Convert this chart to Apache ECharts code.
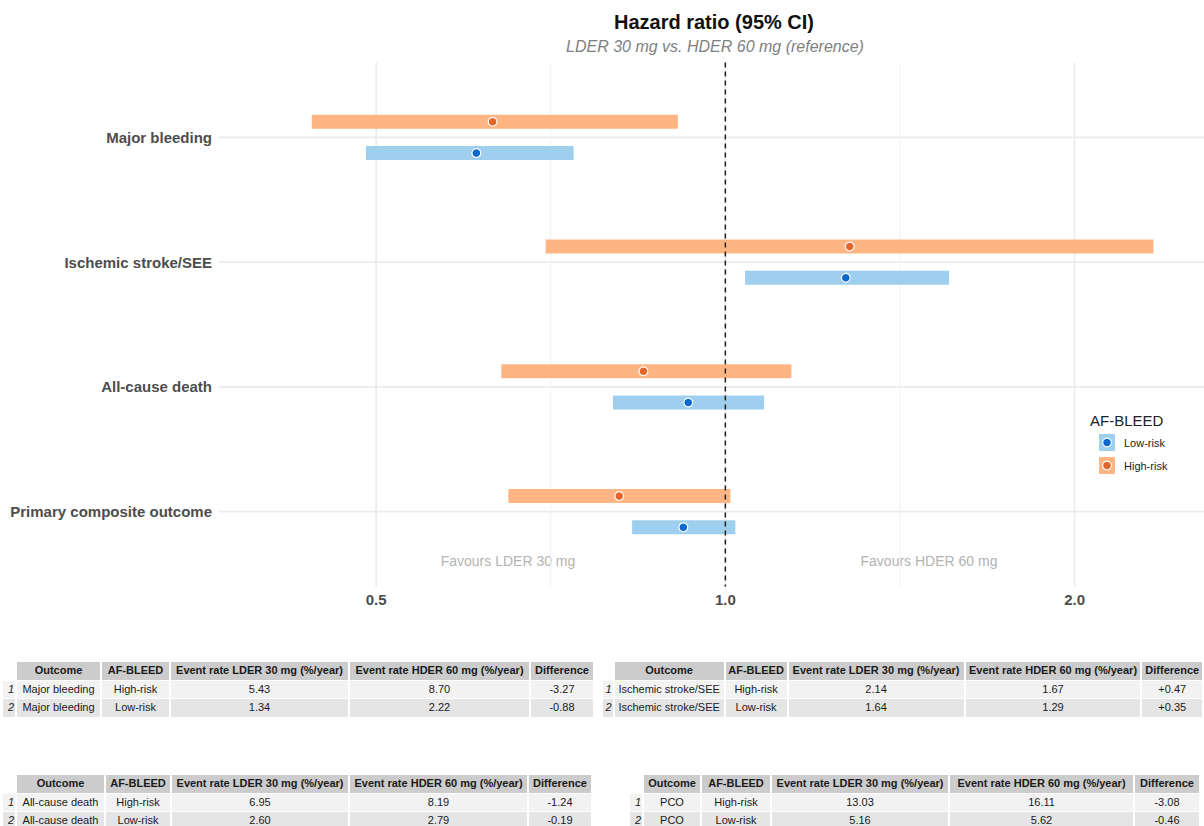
<!DOCTYPE html>
<html><head><meta charset="utf-8">
<script src="https://cdn.jsdelivr.net/npm/echarts@6/dist/echarts.min.js"></script>
<style>
html,body{margin:0;padding:0;background:#fff;width:1204px;height:826px;overflow:hidden;position:relative;font-family:"Liberation Sans",Arial,sans-serif;}
#chart{position:absolute;left:0;top:0;width:1204px;height:640px;}
table.t{position:absolute;border-collapse:separate;border-spacing:2px 1px;font-size:11px;color:#1a1a1a;table-layout:fixed;}
table.t td,table.t th{box-sizing:border-box;height:17.5px;line-height:17px;padding:0 2px;text-align:center;white-space:nowrap;overflow:hidden;}
table.t th{background:#cccccc;font-weight:bold;}
table.t tr th.rh,table.t tr td.rh{background:transparent;font-style:italic;text-align:right;font-weight:normal;padding:0 1px;}
table.t tr.r1 td{background:#f2f2f2;}
table.t tr.r2 td{background:#e5e5e5;}
</style></head>
<body>
<div id="chart"></div>
<div id="tables"></div>
<script>
// ---- forest plot data ----
const outcomes = ['Major bleeding', 'Ischemic stroke/SEE', 'All-cause death', 'Primary composite outcome'];
const highEst = [0.630, 1.280, 0.850, 0.810];
const highLo  = [0.440, 0.700, 0.641, 0.650];
const highHi  = [0.910, 2.339, 1.140, 1.010];
const lowEst  = [0.610, 1.270, 0.929, 0.920];
const lowLo   = [0.490, 1.040, 0.800, 0.831];
const lowHi   = [0.740, 1.559, 1.080, 1.020];
const xMajorBreaks = [0.5, 1, 2];
const xMinorBreaks = [0.707, 1.414];
const refValue = 1;
const xMin = 0.366, xMax = 2.586;

// ---- table data ----
const tableHeader = ['Outcome', 'AF-BLEED', 'Event rate LDER 30 mg (%/year)', 'Event rate HDER 60 mg (%/year)', 'Difference'];
const tableOutcomes = ['Major bleeding', 'Ischemic stroke/SEE', 'All-cause death', 'PCO'];
const riskGroups = ['High-risk', 'Low-risk'];
const rateLDER = [['5.43', '1.34'], ['2.14', '1.64'], ['6.95', '2.60'], ['13.03', '5.16']];
const rateHDER = [['8.70', '2.22'], ['1.67', '1.29'], ['8.19', '2.79'], ['16.11', '5.62']];
const rateDiff = [['-3.27', '-0.88'], ['+0.47', '+0.35'], ['-1.24', '-0.19'], ['-3.08', '-0.46']];

// ---- tables (layout) ----
const tableLayout = [
  {left: 1,   top: 661, widths: [12, 83, 67, 177, 179, 62]},
  {left: 601, top: 661, widths: [12, 114, 63, 181, 179, 62]},
  {left: 1,   top: 774, widths: [12, 87, 64, 176, 177, 62]},
  {left: 628, top: 774, widths: [12, 56, 68, 176, 183, 64]}
];
let html = '';
tableOutcomes.forEach((o, ti) => {
  const L = tableLayout[ti];
  const w = L.widths;
  let s = '<table class="t" style="left:' + L.left + 'px;top:' + L.top + 'px"><tr><th class="rh" style="width:' + w[0] + 'px"></th>';
  tableHeader.forEach((h, k) => { s += '<th style="width:' + w[k + 1] + 'px">' + h + '</th>'; });
  s += '</tr>';
  riskGroups.forEach((g, r) => {
    s += '<tr class="r' + (r + 1) + '"><td class="rh">' + (r + 1) + '</td><td>' + o + '</td><td>' + g + '</td><td>' +
      rateLDER[ti][r] + '</td><td>' + rateHDER[ti][r] + '</td><td>' + rateDiff[ti][r] + '</td></tr>';
  });
  s += '</table>';
  html += s;
});
document.getElementById('tables').innerHTML = html;

// ---- chart ----
const chart = echarts.init(document.getElementById('chart'), null, {renderer: 'svg'});
const FONT = '"Liberation Sans", Arial, sans-serif';
const EXPAND = 0.6;

function bandOf(api) {
  return api.coord([1, 1])[1] - api.coord([1, 0])[1];
}

function renderGrid(params, api) {
  const cs = params.coordSys;
  const band = bandOf(api);
  const top = api.coord([1, 0])[1] - EXPAND * band;
  const bottom = api.coord([1, outcomes.length - 1])[1] + EXPAND * band;
  const children = [];
  outcomes.forEach((o, i) => {
    const y = api.coord([1, i])[1];
    children.push({type: 'line', shape: {x1: cs.x, y1: y, x2: cs.x + cs.width, y2: y}, style: {stroke: '#ebebeb', lineWidth: 1.6}});
  });
  xMinorBreaks.forEach(v => {
    const x = api.coord([v, 0])[0];
    children.push({type: 'line', shape: {x1: x, y1: top, x2: x, y2: bottom}, style: {stroke: '#f1f1f1', lineWidth: 1}});
  });
  xMajorBreaks.forEach(v => {
    const x = api.coord([v, 0])[0];
    children.push({type: 'line', shape: {x1: x, y1: top, x2: x, y2: bottom}, style: {stroke: '#ebebeb', lineWidth: 1.6}});
  });
  return {type: 'group', children};
}

function renderRef(params, api) {
  const band = bandOf(api);
  const top = api.coord([1, 0])[1] - EXPAND * band;
  const bottom = api.coord([1, outcomes.length - 1])[1] + EXPAND * band;
  const x = api.coord([refValue, 0])[0];
  return {type: 'line', shape: {x1: x, y1: top, x2: x, y2: bottom}, style: {stroke: '#222222', lineWidth: 1.5, lineDash: [5, 4]}};
}

function makeBarSeries(name, lo, hi, est, offsetFrac, barColor, dotColor) {
  return {
    type: 'custom', name: name, z: 3,
    encode: {x: [0, 2, 3], y: 1},
    data: outcomes.map((o, i) => [lo[i], i, hi[i], est[i]]),
    renderItem: function (params, api) {
      const band = bandOf(api);
      const p0 = api.coord([api.value(0), api.value(1)]);
      const x2 = api.coord([api.value(2), api.value(1)])[0];
      const xe = api.coord([api.value(3), api.value(1)])[0];
      const yc = p0[1] + offsetFrac * band;
      const h = 0.112 * band;
      return {type: 'group', children: [
        {type: 'rect', shape: {x: p0[0], y: yc - h / 2, width: x2 - p0[0], height: h}, style: {fill: barColor}},
        {type: 'circle', shape: {cx: xe, cy: yc, r: 4.4}, style: {fill: dotColor, stroke: '#ffffff', lineWidth: 1.2}}
      ]};
    }
  };
}

const HIGH_BAR = '#ffb583', HIGH_DOT = '#e0662a';
const LOW_BAR = '#9fcfee', LOW_DOT = '#0a68cf';

const option = {
  backgroundColor: '#ffffff',
  animation: false,
  textStyle: {fontFamily: FONT},
  grid: {left: 219, right: 0, top: 75, bottom: 66, outerBoundsMode: 'none', containLabel: false},
  xAxis: {
    type: 'log', logBase: 2, min: xMin, max: xMax,
    axisLine: {show: false}, axisTick: {show: false}, splitLine: {show: false},
    axisLabel: {
      margin: 18, fontSize: 15, fontWeight: 'bold', color: '#4d4d4d', fontFamily: FONT,
      showMinLabel: false, showMaxLabel: false,
      formatter: function (v) {
        const ok = xMajorBreaks.some(b => Math.abs(b - v) < 1e-6);
        return ok ? Number(v).toFixed(1) : '';
      }
    }
  },
  yAxis: {
    type: 'category', inverse: true, data: outcomes,
    axisLine: {show: false}, axisTick: {show: false}, splitLine: {show: false},
    axisLabel: {margin: 7, fontSize: 15, fontWeight: 'bold', color: '#4d4d4d', fontFamily: FONT}
  },
  series: [
    {type: 'custom', name: 'grid', z: 1, silent: true, data: [[1, 0]], encode: {x: 0, y: 1}, renderItem: renderGrid},
    makeBarSeries('High-risk', highLo, highHi, highEst, -0.125, HIGH_BAR, HIGH_DOT),
    makeBarSeries('Low-risk', lowLo, lowHi, lowEst, 0.125, LOW_BAR, LOW_DOT),
    {type: 'custom', name: 'ref', z: 5, silent: true, data: [[1, 0]], encode: {x: 0, y: 1}, renderItem: renderRef}
  ],
  graphic: [
    {type: 'text', x: 714, y: 22, style: {text: 'Hazard ratio (95% CI)', align: 'center', verticalAlign: 'middle', fontSize: 20, fontWeight: 'bold', fill: '#111', fontFamily: FONT}},
    {type: 'text', x: 715, y: 46, style: {text: 'LDER 30 mg vs. HDER 60 mg (reference)', align: 'center', verticalAlign: 'middle', fontSize: 16, fontStyle: 'italic', fill: '#808080', fontFamily: FONT}},
    {type: 'text', x: 508, y: 561, style: {text: 'Favours LDER 30 mg', align: 'center', verticalAlign: 'middle', fontSize: 14, fill: '#b3b3b3', fontFamily: FONT}},
    {type: 'text', x: 929, y: 561, style: {text: 'Favours HDER 60 mg', align: 'center', verticalAlign: 'middle', fontSize: 14, fill: '#b3b3b3', fontFamily: FONT}},
    {type: 'text', x: 1090, y: 420, style: {text: 'AF-BLEED', align: 'left', verticalAlign: 'middle', fontSize: 15, fill: '#222', fontFamily: FONT}},
    {type: 'rect', shape: {x: 1099, y: 434, width: 16, height: 17, r: 1}, style: {fill: LOW_BAR}},
    {type: 'circle', shape: {cx: 1107, cy: 442.5, r: 4.4}, style: {fill: LOW_DOT, stroke: '#fff', lineWidth: 1.2}},
    {type: 'text', x: 1124, y: 443, style: {text: 'Low-risk', align: 'left', verticalAlign: 'middle', fontSize: 11, fill: '#222', fontFamily: FONT}},
    {type: 'rect', shape: {x: 1099, y: 457, width: 16, height: 17, r: 1}, style: {fill: HIGH_BAR}},
    {type: 'circle', shape: {cx: 1107, cy: 465.5, r: 4.4}, style: {fill: HIGH_DOT, stroke: '#fff', lineWidth: 1.2}},
    {type: 'text', x: 1124, y: 466, style: {text: 'High-risk', align: 'left', verticalAlign: 'middle', fontSize: 11, fill: '#222', fontFamily: FONT}}
  ]
};
chart.setOption(option);
</script>
</body></html>
